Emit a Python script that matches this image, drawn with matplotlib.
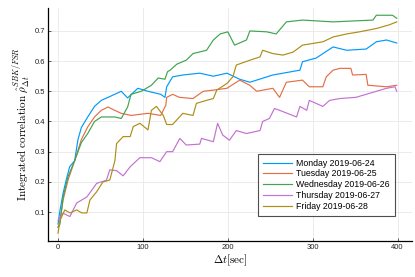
import matplotlib
matplotlib.use("Agg")
import matplotlib.pyplot as plt

plt.rcParams['mathtext.fontset'] = 'cm'
plt.rcParams['font.family'] = ['Liberation Sans', 'DejaVu Sans']

labels = ["Monday 2019-06-24", "Tuesday 2019-06-25", "Wednesday 2019-06-26",
          "Thursday 2019-06-27", "Friday 2019-06-28"]
colors = ["#009AFA", "#E36F47", "#3EA44E", "#C371D2", "#AC8E18"]

mon_t = [0, 2, 6, 10, 13.7, 19.6, 23.5, 27.5, 35, 43, 51, 59, 66.7, 74.5, 82, 94, 106, 121, 126,
         128, 135, 147, 167, 183, 199, 214, 226, 253, 285, 288, 304, 324, 340, 363, 375, 387, 399]
mon_v = [0.06, 0.1, 0.163, 0.21, 0.25, 0.27, 0.34, 0.38, 0.415, 0.45, 0.47, 0.48, 0.49, 0.50, 0.478, 0.51, 0.50, 0.49, 0.48,
         0.515, 0.548, 0.554, 0.56, 0.55, 0.56, 0.54, 0.53, 0.554, 0.57, 0.598, 0.61, 0.647, 0.636, 0.64, 0.664, 0.67, 0.66]

tue_t = [0, 2, 6, 11.8, 19.6, 27.5, 35, 43, 51, 59, 66.7, 74.5, 86, 106, 121, 127, 128, 135, 143, 159, 171, 183, 199,
         214, 226, 234, 253, 261, 269, 288, 296, 312, 316, 324, 332, 345, 347, 363, 365, 387, 399]
tue_v = [0.05, 0.064, 0.14, 0.206, 0.27, 0.34, 0.382, 0.415, 0.437, 0.448, 0.437, 0.427, 0.42, 0.427, 0.42, 0.454, 0.48, 0.49, 0.48, 0.476, 0.50, 0.504, 0.51,
         0.537, 0.52, 0.50, 0.51, 0.48, 0.53, 0.537, 0.515, 0.515, 0.548, 0.57, 0.576, 0.576, 0.554, 0.556, 0.52, 0.515, 0.52]

wed_t = [0, 2, 6, 11.8, 19.6, 27.5, 35, 43, 51, 66.7, 74.5, 82, 86, 98, 110, 118, 126, 129, 132, 140, 151, 159, 175, 183,
         191, 200, 208, 222, 226, 246, 257, 269, 288, 324, 371, 375, 394, 399]
wed_v = [0.05, 0.057, 0.15, 0.217, 0.27, 0.33, 0.36, 0.40, 0.415, 0.415, 0.41, 0.448, 0.49, 0.50, 0.52, 0.544, 0.54, 0.565, 0.57, 0.59, 0.603, 0.625, 0.636, 0.67,
         0.69, 0.697, 0.653, 0.67, 0.70, 0.697, 0.69, 0.73, 0.736, 0.73, 0.736, 0.752, 0.752, 0.742]

thu_t = [0, 6, 14, 22, 34, 45.5, 57, 61, 69, 76.7, 85, 92.6, 96.5, 110, 120, 128, 135, 143.5, 151, 167, 169, 183, 188, 194,
         202, 210, 222, 238, 241, 249, 255, 261, 281, 285, 293, 296, 312, 320, 332, 351, 363, 387, 397, 399]
thu_v = [0.073, 0.096, 0.085, 0.13, 0.15, 0.195, 0.205, 0.24, 0.237, 0.22, 0.25, 0.27, 0.28, 0.28, 0.267, 0.30, 0.30, 0.344, 0.322, 0.325, 0.344, 0.333, 0.394, 0.355,
         0.338, 0.37, 0.36, 0.37, 0.40, 0.41, 0.443, 0.437, 0.415, 0.45, 0.437, 0.47, 0.45, 0.47, 0.476, 0.48, 0.49, 0.51, 0.515, 0.50]

fri_t = [0, 2.4, 8, 14, 22, 28, 34, 37.6, 45.5, 53, 61, 67, 69, 76.8, 85, 88.6, 96.5, 106, 110, 116, 124, 128, 135, 147,
         159, 163, 175, 183, 187, 199, 206, 210, 226, 238, 241, 253, 265, 277, 288, 312, 324, 340, 355, 375, 390, 399]
fri_v = [0.03, 0.073, 0.107, 0.097, 0.107, 0.097, 0.097, 0.14, 0.167, 0.20, 0.206, 0.27, 0.327, 0.35, 0.35, 0.383, 0.394, 0.372, 0.437, 0.45, 0.42, 0.39, 0.39, 0.427,
         0.42, 0.46, 0.47, 0.476, 0.504, 0.526, 0.548, 0.587, 0.603, 0.614, 0.636, 0.625, 0.62, 0.63, 0.653, 0.664, 0.68, 0.69, 0.697, 0.708, 0.72, 0.73]

series = [(mon_t, mon_v), (tue_t, tue_v), (wed_t, wed_v), (thu_t, thu_v), (fri_t, fri_v)]

fig = plt.figure(figsize=(4.15, 2.77), dpi=100)
ax = fig.add_axes([48/415, 36/277, 364/415, 233/277])

for (t, v), lab, c in zip(series, labels, colors):
    ax.plot(t, v, color=c, lw=0.85, label=lab)

ax.set_xlim(-11.8, 417)
ax.set_ylim(0.004, 0.776)
ax.set_xticks([0, 100, 200, 300, 400])
ax.set_yticks([0.1, 0.2, 0.3, 0.4, 0.5, 0.6, 0.7])
ax.tick_params(labelsize=5.5, direction='in', length=2, width=0.5, pad=2, colors='#222222')
ax.grid(True, color='#e8e8e8', lw=0.6)
ax.set_axisbelow(True)
for s in ['top', 'right']:
    ax.spines[s].set_visible(False)
for s in ['left', 'bottom']:
    ax.spines[s].set_linewidth(0.9)

ax.set_xlabel(r'$\Delta t[\mathrm{sec}]$', fontsize=8, labelpad=1)
ax.set_ylabel(r'$\mathrm{Integrated\ correlation}\ \hat{\rho}^{SBK/FSR}_{\Delta t}$', fontsize=8, labelpad=2)

leg = ax.legend(loc='lower right', bbox_to_anchor=(395/415, (277-216)/277), bbox_transform=fig.transFigure,
                fontsize=6.3, frameon=True, fancybox=False, edgecolor='#222222', handlelength=3.3,
                borderpad=0.6, labelspacing=0.2, handletextpad=0.45, borderaxespad=0)
leg.get_frame().set_linewidth(0.8)

fig.savefig('out.png', dpi=100)
